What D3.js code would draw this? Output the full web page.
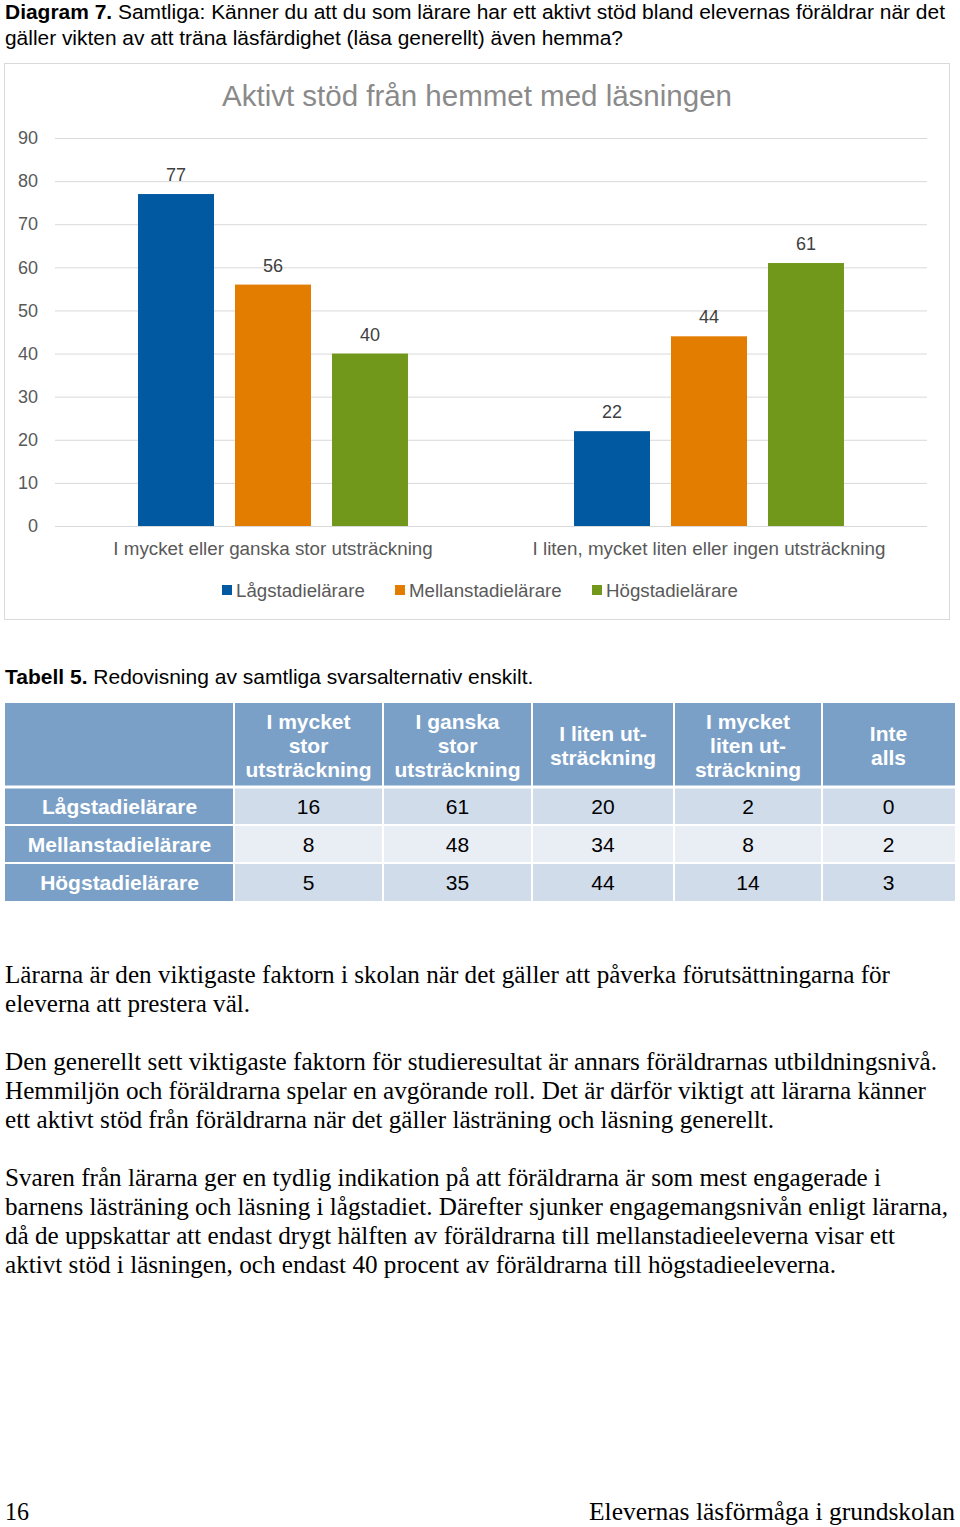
<!DOCTYPE html>
<html><head><meta charset="utf-8">
<script src="https://cdn.jsdelivr.net/npm/d3@7"></script>
<style>body{margin:0;background:#fff}svg{display:block}</style>
</head><body>
<script>
// ---- data ----
const categories = ["I mycket eller ganska stor utsträckning", "I liten, mycket liten eller ingen utsträckning"];
const seriesNames = ["Lågstadielärare", "Mellanstadielärare", "Högstadielärare"];
const lagValues = [77, 22];
const mellanValues = [56, 44];
const hogValues = [40, 61];
const yTicks = [0, 10, 20, 30, 40, 50, 60, 70, 80, 90];
const colors = ["#0059a1", "#e27d00", "#72981b"];

const tableColumns = [["I mycket","stor","utsträckning"],["I ganska","stor","utsträckning"],["I liten ut-","sträckning"],["I mycket","liten ut-","sträckning"],["Inte","alls"]];
const tableRowNames = ["Lågstadielärare", "Mellanstadielärare", "Högstadielärare"];
const tableLag = [16, 61, 20, 2, 0];
const tableMellan = [8, 48, 34, 8, 2];
const tableHog = [5, 35, 44, 14, 3];

const paragraphs = [
  ["Lärarna är den viktigaste faktorn i skolan när det gäller att påverka förutsättningarna för", "eleverna att prestera väl."],
  ["Den generellt sett viktigaste faktorn för studieresultat är annars föräldrarnas utbildningsnivå.", "Hemmiljön och föräldrarna spelar en avgörande roll. Det är därför viktigt att lärarna känner", "ett aktivt stöd från föräldrarna när det gäller lästräning och läsning generellt."],
  ["Svaren från lärarna ger en tydlig indikation på att föräldrarna är som mest engagerade i", "barnens lästräning och läsning i lågstadiet. Därefter sjunker engagemangsnivån enligt lärarna,", "då de uppskattar att endast drygt hälften av föräldrarna till mellanstadieeleverna visar ett", "aktivt stöd i läsningen, och endast 40 procent av föräldrarna till högstadieeleverna."]
];

// ---- drawing ----
const W = 960, H = 1527;
const svg = d3.select("body").append("svg").attr("width", W).attr("height", H);
const sans = "'Liberation Sans', Arial, sans-serif";
const serif = "'Liberation Serif', 'Times New Roman', serif";

// Header
const h1 = svg.append("text").attr("x", 5).attr("y", 19).attr("font-family", sans).attr("font-size", 20.5).attr("fill", "#000")
  .attr("textLength", 940).attr("lengthAdjust", "spacingAndGlyphs");
h1.append("tspan").attr("font-weight", "bold").text("Diagram 7.");
h1.append("tspan").text(" Samtliga: Känner du att du som lärare har ett aktivt stöd bland elevernas föräldrar när det");
svg.append("text").attr("x", 5).attr("y", 45).attr("font-family", sans).attr("font-size", 20.5).attr("fill", "#000")
  .attr("textLength", 618).attr("lengthAdjust", "spacingAndGlyphs")
  .text("gäller vikten av att träna läsfärdighet (läsa generellt) även hemma?");

// Chart frame
svg.append("rect").attr("x", 4.5).attr("y", 63.5).attr("width", 945).attr("height", 556)
  .attr("fill", "#fff").attr("stroke", "#d9d9d9").attr("stroke-width", 1);

svg.append("text").attr("x", 477).attr("y", 106).attr("text-anchor", "middle").attr("font-family", sans)
  .attr("font-size", 29.5).attr("fill", "#8a8a8a").text("Aktivt stöd från hemmet med läsningen");

const plotL = 55, plotR = 927;
const y = d3.scaleLinear().domain([0, 90]).range([526, 138]);
const x0 = d3.scaleBand().domain(categories).range([plotL, plotR]);
const x1 = d3.scaleBand().domain(seriesNames).range([0, x0.bandwidth()]).paddingInner(0.2165).paddingOuter(0.856);

// gridlines
svg.append("g").selectAll("line").data(yTicks).join("line")
  .attr("x1", plotL).attr("x2", plotR).attr("y1", d => y(d) + 0.5).attr("y2", d => y(d) + 0.5)
  .attr("stroke", "#d9d9d9").attr("stroke-width", 1);

// y axis labels
const yAxis = d3.axisLeft(y).tickValues(yTicks).tickSize(0).tickPadding(0);
const ya = svg.append("g").attr("transform", "translate(38,0)").call(yAxis);
ya.select(".domain").remove();
ya.selectAll("text").attr("font-family", sans).attr("font-size", 18).attr("fill", "#595959");

// x axis labels
const xAxis = d3.axisBottom(x0).tickSize(0).tickPadding(0);
const xa = svg.append("g").attr("transform", "translate(0,542)").call(xAxis);
xa.select(".domain").remove();
xa.selectAll("text").attr("font-family", sans).attr("font-size", 18.8).attr("fill", "#595959");

const seriesData = [lagValues, mellanValues, hogValues];
const barData = [];
categories.forEach((c, ci) => seriesNames.forEach((s, si) => barData.push({c, s, si, v: seriesData[si][ci]})));

svg.append("g").selectAll("rect").data(barData).join("rect")
  .attr("x", d => x0(d.c) + x1(d.s)).attr("width", x1.bandwidth())
  .attr("y", d => y(d.v)).attr("height", d => y(0) - y(d.v))
  .attr("fill", d => colors[d.si]);

svg.append("g").selectAll("text").data(barData).join("text")
  .attr("x", d => x0(d.c) + x1(d.s) + x1.bandwidth() / 2).attr("y", d => y(d.v) - 13)
  .attr("text-anchor", "middle").attr("font-family", sans).attr("font-size", 18).attr("fill", "#404040")
  .text(d => d.v);

// legend
const legendX = [222, 395, 592];
const lg = svg.append("g").selectAll("g").data(seriesNames).join("g")
  .attr("transform", (d, i) => `translate(${legendX[i]},585)`);
lg.append("rect").attr("width", 10).attr("height", 10).attr("fill", (d, i) => colors[i]);
lg.append("text").attr("x", 14).attr("y", 11.5).attr("font-family", sans).attr("font-size", 18.7).attr("fill", "#595959").text(d => d);

// Table caption
const tc = svg.append("text").attr("x", 5).attr("y", 684).attr("font-family", sans).attr("font-size", 21).attr("fill", "#000");
tc.append("tspan").attr("font-weight", "bold").text("Tabell 5.");
tc.append("tspan").text(" Redovisning av samtliga svarsalternativ enskilt.");

// Table
const colEdges = [5, 234, 383, 532, 674, 822, 955];
const rowEdges = [703, 787, 825, 863, 901];
const headBlue = "#7ba0c7";
const rowFills = ["#d0dcea", "#e9eef5", "#d0dcea"];
const tg = svg.append("g");
for (let c = 0; c < 6; c++) {
  tg.append("rect").attr("x", colEdges[c]).attr("y", rowEdges[0]).attr("width", colEdges[c+1] - colEdges[c]).attr("height", rowEdges[1] - rowEdges[0])
    .attr("fill", headBlue);
}
tableColumns.forEach((lines, i) => {
  const cx = (colEdges[i+1] + colEdges[i+2]) / 2;
  const cy = (rowEdges[0] + rowEdges[1]) / 2;
  const startY = cy - (lines.length - 1) * 24 / 2 + 7.5;
  const t = tg.append("text").attr("text-anchor", "middle").attr("font-family", sans).attr("font-size", 21)
    .attr("font-weight", "bold").attr("fill", "#fff");
  lines.forEach((l, li) => t.append("tspan").attr("x", cx).attr("y", startY + li * 24).text(l));
});
const tableData = [tableLag, tableMellan, tableHog];
tableRowNames.forEach((name, r) => {
  const ry0 = rowEdges[r+1], ry1 = rowEdges[r+2];
  tg.append("rect").attr("x", colEdges[0]).attr("y", ry0).attr("width", colEdges[1] - colEdges[0]).attr("height", ry1 - ry0).attr("fill", headBlue);
  tg.append("text").attr("x", (colEdges[0] + colEdges[1]) / 2).attr("y", (ry0 + ry1) / 2 + 7.5)
    .attr("text-anchor", "middle").attr("font-family", sans).attr("font-size", 21).attr("font-weight", "bold").attr("fill", "#fff").text(name);
  tableData[r].forEach((v, c) => {
    tg.append("rect").attr("x", colEdges[c+1]).attr("y", ry0).attr("width", colEdges[c+2] - colEdges[c+1]).attr("height", ry1 - ry0).attr("fill", rowFills[r]);
    tg.append("text").attr("x", (colEdges[c+1] + colEdges[c+2]) / 2).attr("y", (ry0 + ry1) / 2 + 7.5)
      .attr("text-anchor", "middle").attr("font-family", sans).attr("font-size", 21).attr("fill", "#000").text(v);
  });
});
colEdges.slice(1, -1).forEach(xx => tg.append("line").attr("x1", xx).attr("x2", xx).attr("y1", rowEdges[0]).attr("y2", rowEdges[4]).attr("stroke", "#fff").attr("stroke-width", 2));
rowEdges.slice(1, -1).forEach(yy => tg.append("line").attr("x1", colEdges[0]).attr("x2", colEdges[6]).attr("y1", yy).attr("y2", yy).attr("stroke", "#fff").attr("stroke-width", yy === rowEdges[1] ? 3 : 2));

// Paragraphs
const paraBase = [983, 1070, 1186];
const lineWidths = [[885, 245], [932, 921, 769], [876, 943, 890, 831]];
paragraphs.forEach((p, pi) => {
  p.forEach((line, li) => {
    svg.append("text").attr("x", 5).attr("y", paraBase[pi] + li * 29).attr("font-family", serif).attr("font-size", 24.5).attr("fill", "#000")
      .attr("textLength", lineWidths[pi][li]).attr("lengthAdjust", "spacingAndGlyphs").text(line);
  });
});

// Footer
svg.append("text").attr("x", 5).attr("y", 1520).attr("font-family", serif).attr("font-size", 24.5).attr("fill", "#000")
  .attr("textLength", 24).attr("lengthAdjust", "spacingAndGlyphs").text("16");
svg.append("text").attr("x", 955).attr("y", 1520).attr("text-anchor", "end").attr("font-family", serif).attr("font-size", 24.5).attr("fill", "#000")
  .attr("textLength", 366).attr("lengthAdjust", "spacingAndGlyphs").text("Elevernas läsförmåga i grundskolan");
</script>
</body></html>
